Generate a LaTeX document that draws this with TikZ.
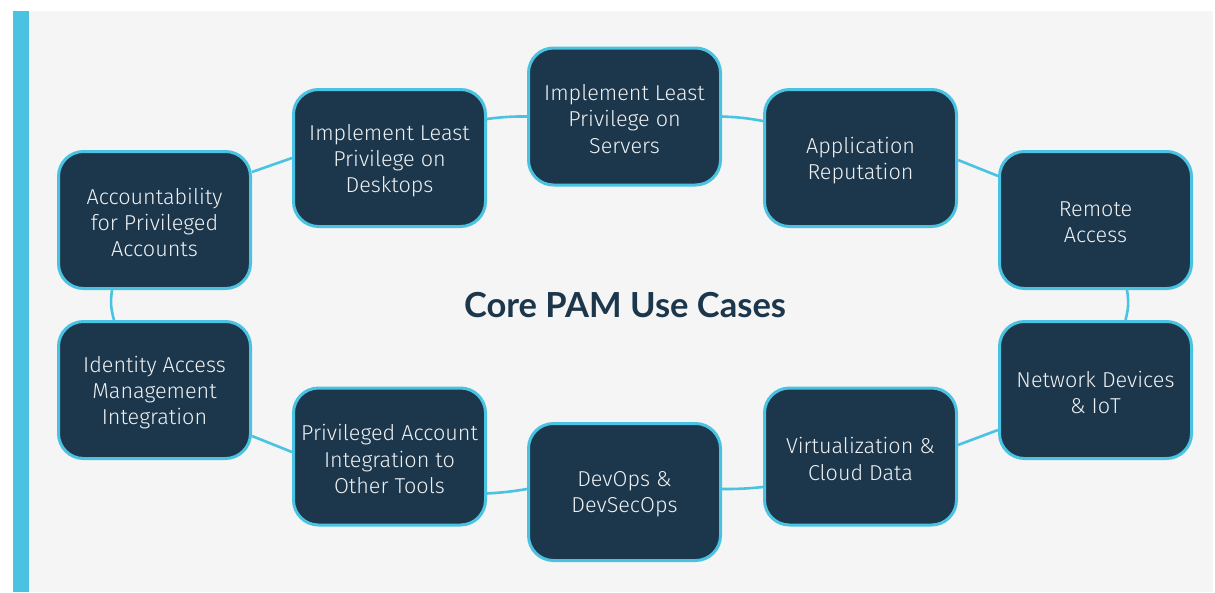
\documentclass[tikz,border=0pt]{standalone}
\usepackage{fontspec}
\setmainfont{Fira Sans Light}
\newfontfamily\titlefont{Lato}
\definecolor{navy}{HTML}{1C364B}
\definecolor{skyline}{HTML}{4AC3E2}
\definecolor{paper}{HTML}{F4F5F4}
\definecolor{boxtext}{HTML}{EEF1F3}
\tikzset{
  usecase/.style={draw=skyline, line width=3pt, fill=navy, rounded corners=25pt,
    minimum width=192pt, minimum height=137pt, inner sep=0pt},
  casetext/.style={align=center, text=boxtext, inner sep=0pt,
    font=\fontsize{21.6}{26.3}\selectfont},
  link/.style={draw=skyline, line width=2.6pt}
}
% a rounded box with its caption set slightly below the geometric centre
\newcommand\usecasebox[3]{%
  \node[usecase] (#1) at (#2) {};
  \node[casetext] (#1-text) at ([yshift=-2.5pt]#1.center) {#3};
}
\begin{document}
\begin{tikzpicture}[x=1pt,y=-1pt]
  % page, panel and accent bar
  \fill[white] (0,0) rectangle (1215,592);
  \useasboundingbox (0,0) rectangle (1215,592);
  \fill[paper] (13,11) rectangle (1213,592);
  \fill[skyline] (13,11) rectangle (29,592);

  % use-case boxes, clockwise from the left
  \usecasebox{acc}{154.5,220}{Accountability\\for Privileged\\Accounts}
  \usecasebox{desk}{389.5,158}{Implement Least\\Privilege on\\Desktops}
  \usecasebox{serv}{624.5,116.5}{Implement Least\\Privilege on\\Servers}
  \usecasebox{app}{860.5,158}{Application\\Reputation}
  \usecasebox{rem}{1095.5,220}{Remote\\Access}
  \usecasebox{net}{1095.5,390}{Network Devices\\\& IoT}
  \usecasebox{virt}{860.5,456.5}{Virtualization \&\\Cloud Data}
  \usecasebox{dev}{624.5,492}{DevOps \&\\DevSecOps}
  \usecasebox{priv}{389.5,456.5}{Privileged Account\\Integration to\\Other Tools}
  \usecasebox{iam}{154.5,390}{Identity Access\\Management\\Integration}

  \node[anchor=base, text=navy, inner sep=0pt,
        font=\titlefont\bfseries\fontsize{34.5}{40}\selectfont]
    (title) at (625,317) {Core PAM Use Cases};

  % connectors around the ring
  \draw[link] ([yshift=48pt]acc.east) -- (desk.west);
  \draw[link] ([yshift=39pt]desk.east) to[bend left=4] (serv.west);
  \draw[link] (serv.east) to[bend left=4] ([yshift=37pt]app.west);
  \draw[link] ([yshift=-2pt]app.east) -- ([yshift=44pt]rem.west);
  \draw[link] ([xshift=31.5pt]rem.south) to[bend left=12] ([xshift=30pt]net.north);
  \draw[link] ([yshift=-40pt]net.west) -- ([yshift=11.5pt]virt.east);
  \draw[link] ([yshift=-30.5pt]virt.west) to[bend left=3] ([yshift=3pt]dev.east);
  \draw[link] ([yshift=3pt]dev.west) to[bend left=3] ([yshift=-37pt]priv.east);
  \draw[link] ([yshift=4.5pt]priv.west) -- ([yshift=-46pt]iam.east);
  \draw[link] ([xshift=-40.5pt]iam.north) to[bend left=12] ([xshift=-42.5pt]acc.south);
\end{tikzpicture}
\end{document}
